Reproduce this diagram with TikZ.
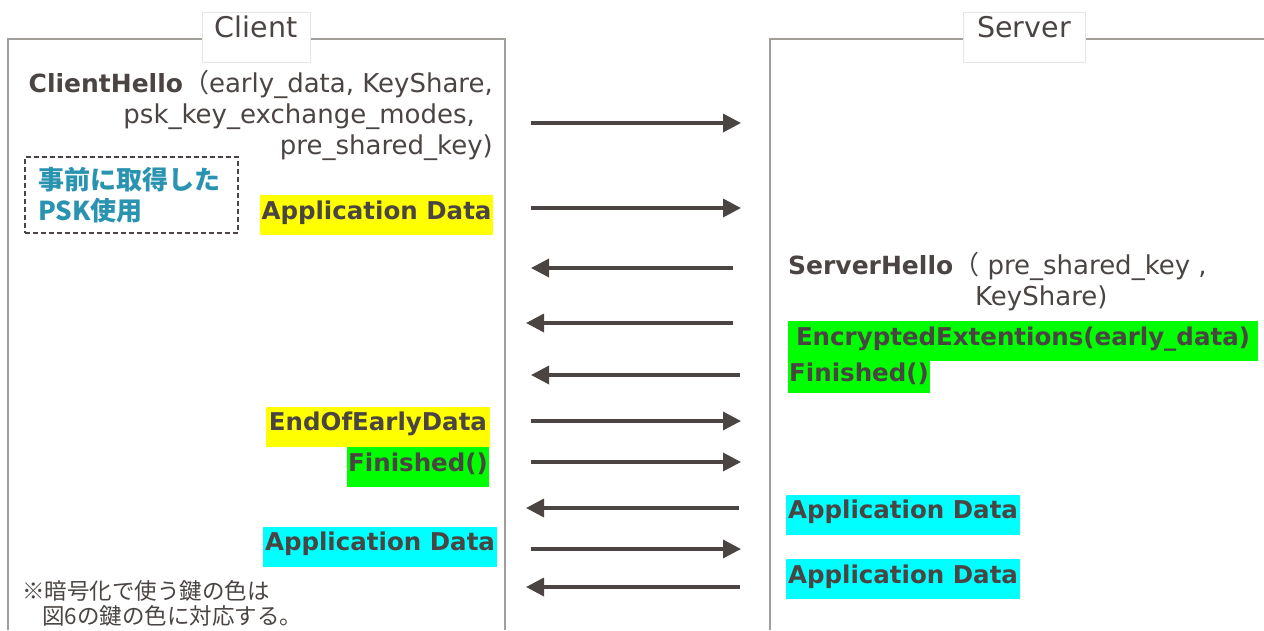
\documentclass[tikz,border=0pt]{standalone}
\usepackage{fontspec}
\setmainfont{DejaVu Sans}
\newfontfamily\jpfont{Noto Sans CJK JP}
\usetikzlibrary{arrows.meta}
\definecolor{ink}{HTML}{4A4543}
\definecolor{framegray}{HTML}{A29F9B}
\definecolor{lblborder}{HTML}{E6E6E6}
\definecolor{pskblue}{HTML}{2A93B0}
\definecolor{hlyellow}{HTML}{FFFF00}
\definecolor{hlgreen}{HTML}{00FF00}
\definecolor{hlcyan}{HTML}{00FFFF}
\begin{document}
\begin{tikzpicture}[x=1pt,y=-1pt,
  msg/.style={draw=ink, line width=3.5pt, -{Triangle[length=18pt,width=18pt]}},
  frameline/.style={draw=framegray, line width=2.5pt},
  titlebox/.style={draw=lblborder, fill=white, line width=1pt, inner sep=0pt,
    minimum height=50pt, text height=20pt, text depth=20pt,
    font=\fontsize{28.5}{30}\selectfont, text=ink},
  hl/.style={inner sep=0pt, minimum height=40pt, text height=19pt, text depth=11pt,
    font=\fontsize{24.5}{28}\selectfont\bfseries, text=ink},
  plain/.style={font=\fontsize{26}{31}\selectfont, text=ink, inner sep=0pt},
  notetext/.style={font=\jpfont\fontsize{22.5}{28}\selectfont, text=ink, inner sep=0pt, anchor=west}
]
\useasboundingbox (0,0) rectangle (1264,630);

% frames
\draw[frameline] (8,630) -- (8,39) -- (505,39) -- (505,630);
\draw[frameline] (770,630) -- (770,39) -- (1264,39);
\node[titlebox, minimum width=108pt] (client) at (256,37) {Client};
\node[titlebox, minimum width=122pt] (server) at (1024,37) {Server};

% ClientHello
\node[plain, anchor=base east] (ch1) at (493,92) {{\fontsize{25}{31}\selectfont\bfseries ClientHello}{\jpfont （}early\_data, KeyShare,};
\node[plain, anchor=base east] (ch2) at (475,123) {psk\_key\_exchange\_modes,};
\node[plain, anchor=base east] (ch3) at (493,154) {pre\_shared\_key)};

% PSK box
\node[draw=ink, dashed, line width=1.8pt, dash pattern=on 5pt off 3pt,
  text width=187pt, inner xsep=13pt, inner ysep=0pt, align=left,
  minimum height=76pt, text=pskblue,
  font=\jpfont\bfseries\fontsize{26}{31}\selectfont] (psk) at (131.5,195) {事前に取得した\\PSK使用};

% client labels
\node[hl, fill=hlyellow, minimum width=233pt] (appc1) at (376.5,215) {Application Data};
\node[hl, fill=hlyellow, minimum width=224pt] (eoed) at (378,426.5) {EndOfEarlyData};
\node[hl, fill=hlgreen, minimum width=142pt] (finc) at (418,467) {Finished()};
\node[hl, fill=hlcyan, minimum width=234pt] (appc2) at (380,546.5) {Application Data};

% server labels
\node[plain, anchor=base west] (sh1) at (788,274) {{\fontsize{25}{31}\selectfont\bfseries ServerHello}{\jpfont （} pre\_shared\_key ,};
\node[plain, anchor=base west] (sh2) at (975,305) {KeyShare)};
\node[hl, fill=hlgreen, minimum width=470pt] (ee) at (1023,341) {EncryptedExtentions(early\_data)};
\node[hl, fill=hlgreen, minimum width=142pt, minimum height=32pt] (fins) at (859,377) {Finished()};
\node[hl, fill=hlcyan, minimum width=234pt] (apps1) at (903,514.5) {Application Data};
\node[hl, fill=hlcyan, minimum width=234pt] (apps2) at (903,579) {Application Data};

% note
\node[notetext] (note1) at (22,591) {※暗号化で使う鍵の色は};
\node[notetext] (note2) at (42,616) {図6の鍵の色に対応する。};

% arrow end points
\coordinate (a1s) at (531,123); \coordinate (a1e) at (741,123);
\coordinate (a2s) at (531,208); \coordinate (a2e) at (741,208);
\coordinate (a3s) at (733,268); \coordinate (a3e) at (531,268);
\coordinate (a4s) at (733,323); \coordinate (a4e) at (526,323);
\coordinate (a5s) at (740,375); \coordinate (a5e) at (531,375);
\coordinate (a6s) at (531,421); \coordinate (a6e) at (741,421);
\coordinate (a7s) at (531,462); \coordinate (a7e) at (741,462);
\coordinate (a8s) at (739,508); \coordinate (a8e) at (526,508);
\coordinate (a9s) at (531,549); \coordinate (a9e) at (741,549);
\coordinate (a10s) at (740,587); \coordinate (a10e) at (526,587);

\foreach \i in {1,...,10} \draw[msg] (a\i s) -- (a\i e);
\end{tikzpicture}
\end{document}
